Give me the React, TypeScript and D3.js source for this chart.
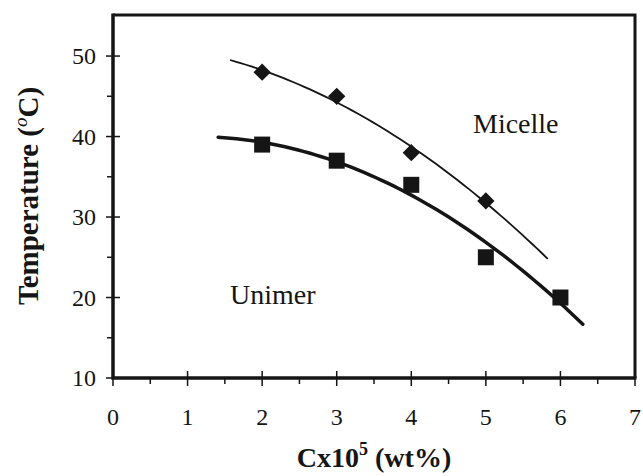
import React from "react";
import * as d3 from "d3";

// ---- data ----
const micelleX = [2, 3, 4, 5];
const micelleY = [48, 45, 38, 32];
const unimerX = [2, 3, 4, 5, 6];
const unimerY = [39, 37, 34, 25, 20];
// trendline (2nd-order polynomial) extents
const micelleFitRange = [1.57, 5.83];
const unimerFitRange = [1.41, 6.3];
const xTicks = [0, 1, 2, 3, 4, 5, 6, 7];
const yTicks = [10, 20, 30, 40, 50];
const xMinorTicks = [0.5, 1.5, 2.5, 3.5, 4.5, 5.5, 6.5];
const yMinorTicks = [15, 25, 35, 45];
const xDomain = [0, 7];
const yDomain = [10, 55.1];

function quadFit(xs: number[], ys: number[]) {
  // least squares y = a + b x + c x^2
  const n = xs.length;
  let s1 = 0, s2 = 0, s3 = 0, s4 = 0, t0 = 0, t1 = 0, t2 = 0;
  for (let i = 0; i < n; i++) {
    const x = xs[i], y = ys[i];
    s1 += x; s2 += x * x; s3 += x * x * x; s4 += x * x * x * x;
    t0 += y; t1 += x * y; t2 += x * x * y;
  }
  const M = [
    [n, s1, s2, t0],
    [s1, s2, s3, t1],
    [s2, s3, s4, t2],
  ];
  for (let i = 0; i < 3; i++) {
    for (let k = i + 1; k < 3; k++) {
      const f = M[k][i] / M[i][i];
      for (let j = i; j < 4; j++) M[k][j] -= f * M[i][j];
    }
  }
  const c = M[2][3] / M[2][2];
  const b = (M[1][3] - M[1][2] * c) / M[1][1];
  const a = (M[0][3] - M[0][1] * b - M[0][2] * c) / M[0][0];
  return (x: number) => a + b * x + c * x * x;
}

const W = 643, H = 476;
const left = 113, right = 635, top = 15, bottom = 378;
const ink = "#151515";
const font = "Liberation Serif";

export default function App() {
  const x = d3.scaleLinear().domain(xDomain).range([left, right]);
  const y = d3.scaleLinear().domain(yDomain).range([bottom, top]);
  const line = d3.line<number[]>().x((d) => x(d[0])).y((d) => y(d[1]));
  const mf = quadFit(micelleX, micelleY);
  const uf = quadFit(unimerX, unimerY);
  const sample = (r: number[], f: (v: number) => number) =>
    d3.range(0, 61).map((i) => {
      const v = r[0] + ((r[1] - r[0]) * i) / 60;
      return [v, f(v)];
    });
  const diamond = d3.symbol().type(d3.symbolDiamond2).size(190)() as string;

  return (
    <svg
      width={W}
      height={H}
      style={{ position: "fixed", left: 0, top: 0, display: "block", background: "#fff" }}
    >
      {/* frame top/right */}
      <path d={`M${left},${top}H${right}V${bottom}`} fill="none" stroke={ink} strokeWidth={3} />

      {/* ticks */}
      <g stroke={ink} strokeWidth={1.5}>
        {yTicks.map((t) => (
          <line key={"yt" + t} x1={left - 7} x2={left + 7} y1={y(t)} y2={y(t)} />
        ))}
        {yMinorTicks.map((t) => (
          <line key={"ym" + t} x1={left - 6} x2={left} y1={y(t)} y2={y(t)} />
        ))}
        {xTicks.map((t) => (
          <line key={"xt" + t} x1={x(t)} x2={x(t)} y1={bottom - 7} y2={bottom + 8} />
        ))}
        {xMinorTicks.map((t) => (
          <line key={"xm" + t} x1={x(t)} x2={x(t)} y1={bottom} y2={bottom + 6} />
        ))}
      </g>

      {/* axis lines */}
      <path
        d={`M${left},${top - 1.5}V${bottom}H${right + 1.5}`}
        fill="none"
        stroke={ink}
        strokeWidth={3.5}
      />

      {/* tick labels */}
      {yTicks.map((t) => (
        <text key={"yl" + t} x={96} y={y(t) + 8} textAnchor="end" fill={ink}
          style={{ fontFamily: font, fontSize: 24 }}>
          {t}
        </text>
      ))}
      {xTicks.map((t) => (
        <text key={"xl" + t} x={x(t)} y={425} textAnchor="middle" fill={ink}
          style={{ fontFamily: font, fontSize: 24 }}>
          {t}
        </text>
      ))}

      {/* fit curves */}
      <path d={line(sample(micelleFitRange, mf)) as string} fill="none" stroke={ink} strokeWidth={1.8} />
      <path d={line(sample(unimerFitRange, uf)) as string} fill="none" stroke={ink} strokeWidth={3.5}
        strokeLinecap="round" />

      {/* markers */}
      {micelleX.map((v, i) => (
        <path key={"m" + i} d={diamond} transform={`translate(${x(v)},${y(micelleY[i])})`} fill={ink} />
      ))}
      {unimerX.map((v, i) => (
        <rect key={"u" + i} x={x(v) - 8} y={y(unimerY[i]) - 8} width={16} height={16} fill={ink} />
      ))}

      {/* annotations */}
      <text x={473} y={133} fill={ink} style={{ fontFamily: font, fontSize: 28 }}>Micelle</text>
      <text x={230} y={304} fill={ink} style={{ fontFamily: font, fontSize: 28 }}>Unimer</text>

      {/* x label */}
      <text x={374} y={467} textAnchor="middle" fill={ink}
        style={{ fontFamily: font, fontSize: 28, fontWeight: "bold" }}>
        <tspan>Cx10</tspan>
        <tspan dy={-12} style={{ fontSize: 18 }}>5</tspan>
        <tspan dy={12}> (wt%)</tspan>
      </text>

      {/* y label */}
      <text transform="translate(38,196) rotate(-90)" textAnchor="middle" fill={ink}
        style={{ fontFamily: font, fontSize: 29, fontWeight: "bold" }}>
        <tspan>Temperature (</tspan>
        <tspan dy={-11} style={{ fontSize: 19, fontStyle: "italic", fontWeight: "normal" }}>o</tspan>
        <tspan dy={11}>C)</tspan>
      </text>
    </svg>
  );
}
